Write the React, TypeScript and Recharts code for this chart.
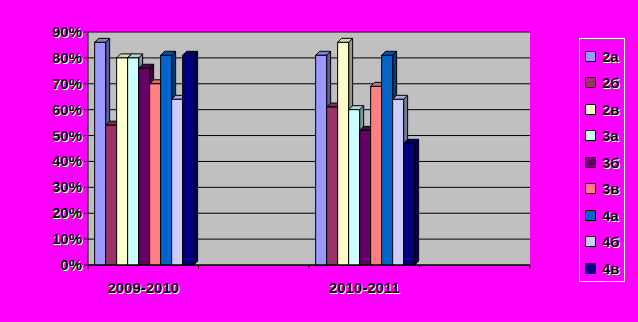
import { BarChart, Bar, XAxis, YAxis, CartesianGrid } from 'recharts'

const categories = ['2009-2010', '', '2010-2011', '']
const groups = ['2а', '2б', '2в', '3а', '3б', '3в', '4а', '4б', '4в']
const colors = ['#9999ff', '#993366', '#ffffcc', '#ccffff', '#660066', '#ff8080', '#0066cc', '#ccccff', '#000080']
// per group: [2009-2010, 2010-2011]
const values = [
  [0.86, 0.81],
  [0.54, 0.61],
  [0.80, 0.86],
  [0.80, 0.60],
  [0.76, 0.52],
  [0.70, 0.69],
  [0.81, 0.81],
  [0.64, 0.64],
  [0.81, 0.47],
]
const yTicks = [0, 0.1, 0.2, 0.3, 0.4, 0.5, 0.6, 0.7, 0.8, 0.9]

const data = categories.map((c, ci) => {
  const row: Record<string, string | number | null> = { cat: c }
  groups.forEach((g, gi) => {
    row[g] = ci === 0 ? values[gi][0] : ci === 2 ? values[gi][1] : null
  })
  return row
})

const font = 'Arial, "Liberation Sans", sans-serif'

function shade(hex: string, k: number) {
  const n = parseInt(hex.slice(1), 16)
  const f = (v: number) => Math.round(v * k)
  return `rgb(${f(n >> 16)},${f((n >> 8) & 255)},${f(n & 255)})`
}

const Bar3D = (props: any) => {
  const { x, y, width, height, fill } = props
  if (!height || height <= 0) return null
  const d = 4
  return (
    <g stroke="#000" strokeWidth={1}>
      <path d={`M${x + width},${y} l${d},${-d} v${height} l${-d},${d} Z`} fill={shade(fill, 0.6)} />
      <path d={`M${x},${y} l${d},${-d} h${width} l${-d},${d} Z`} fill={shade(fill, 0.85)} />
      <rect x={x} y={y} width={width} height={height} fill={fill} />
    </g>
  )
}

const ShadowText = ({ x, y, children, anchor }: any) => (
  <g fontFamily={font} fontWeight="bold" fontSize={15} textAnchor={anchor}>
    <text x={x + 1} y={y + 1} fill="#fff">{children}</text>
    <text x={x} y={y} fill="#000">{children}</text>
  </g>
)

const YTick = (props: any) => {
  const { x, y, payload } = props
  return (
    <ShadowText x={x} y={y + 5} anchor="end">{Math.round(payload.value * 100) + '%'}</ShadowText>
  )
}

const XTick = (props: any) => {
  const { x, y, payload, index } = props
  const half = 442 / categories.length / 2
  return (
    <g>
      <line x1={x - half} x2={x - half} y1={y - 8} y2={y - 4} stroke="#000" />
      {index === categories.length - 1 && <line x1={x + half} x2={x + half} y1={y - 8} y2={y - 4} stroke="#000" />}
      <ShadowText x={x} y={y + 20} anchor="middle">{payload.value}</ShadowText>
    </g>
  )
}

const LegendBox = () => (
  <div style={{ position: 'absolute', left: 579, top: 38, border: '1px solid #fff', width: 46, height: 244, padding: '4px 0 0 5px', boxSizing: 'border-box' }}>
    {groups.map((g, i) => (
      <div key={g} style={{ display: 'flex', alignItems: 'center', height: 26.5, fontFamily: font, fontWeight: 'bold', fontSize: 15, textShadow: '1px 1px 0 #fff' }}>
        <span style={{ width: 9, height: 9, background: colors[i], border: '1px solid #000', marginRight: 6, display: 'inline-block' }} />
        {g}
      </div>
    ))}
  </div>
)

export default function App() {
  return (
    <div style={{ position: 'absolute', left: 0, top: 0, width: 638, height: 322, background: '#ff00ff' }}>
      <BarChart width={638} height={322} data={data} margin={{ top: 32, right: 108, left: 0, bottom: 27 }} barCategoryGap="6%" barGap={0}>
        <CartesianGrid vertical={false} fill="#c0c0c0" stroke="#000" fillOpacity={1} />
        <XAxis
          dataKey="cat"
          axisLine={{ stroke: '#000' }}
          tickLine={false}
          tick={<XTick />}
          interval={0}
        />
        <YAxis
          domain={[0, 0.9]}
          ticks={yTicks}
          width={88}
          axisLine={{ stroke: '#000' }}
          tickLine={{ stroke: '#000' }}
          tickSize={4}
          tick={<YTick />}
          interval={0}
        />
        {groups.map((g, i) => (
          <Bar key={g} dataKey={g} fill={colors[i]} shape={<Bar3D />} isAnimationActive={false} />
        ))}
      </BarChart>
      <LegendBox />
    </div>
  )
}
